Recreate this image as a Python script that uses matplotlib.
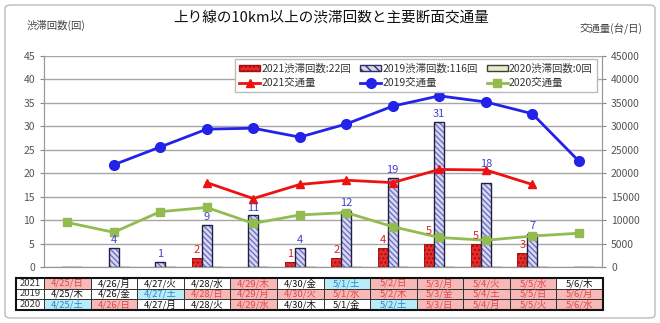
import matplotlib
matplotlib.use("Agg")
import matplotlib.pyplot as plt
from matplotlib.patches import FancyBboxPatch, Patch
import numpy as np

plt.rcParams['font.family'] = ['Noto Sans CJK JP', 'DejaVu Sans']

# data
days = ["4/25", "4/26", "4/27", "4/28", "4/29", "4/30",
        "5/1", "5/2", "5/3", "5/4", "5/5", "5/6"]
jam_2021 = [0, 0, 0, 2, 0, 1, 2, 4, 5, 5, 3, 0]
jam_2019 = [0, 4, 1, 9, 11, 4, 12, 19, 31, 18, 7, 0]
jam_2020 = [0, 0, 0, 0, 0, 0, 0, 0, 0, 0, 0, 0]
traffic_2021 = [None, None, None, 18000, 14600, 17600, 18500, 18000, 20800, 20700, 17600, None]
traffic_2019 = [None, 21800, 25600, 29400, 29600, 27700, 30500, 34300, 36500, 35200, 32700, 22600]
traffic_2020 = [9500, 7400, 11800, 12700, 9300, 11100, 11600, 8600, 6300, 5700, 6600, 7200]

row_years = ["2021", "2019", "2020"]
weekdays_2021 = ["日", "月", "火", "水", "木", "金", "土", "日", "月", "火", "水", "木"]
weekdays_2019 = ["木", "金", "土", "日", "月", "火", "水", "木", "金", "土", "日", "月"]
weekdays_2020 = ["土", "日", "月", "火", "水", "木", "金", "土", "日", "月", "火", "水"]
# h = holiday/sunday, s = saturday, w = weekday
daytype_2021 = ["h", "w", "w", "w", "h", "w", "s", "h", "h", "h", "h", "w"]
daytype_2019 = ["w", "w", "s", "h", "h", "h", "h", "h", "h", "h", "h", "h"]
daytype_2020 = ["s", "h", "w", "w", "h", "w", "w", "s", "h", "h", "h", "h"]

fig = plt.figure(figsize=(6.6, 3.23), dpi=100)
ax = fig.add_axes([44/660, 1-267/323, 558/660, 211/323])
ax2 = ax.twinx()

x = np.arange(len(days))
w = 0.215

# bars
ax.bar(x - w, jam_2021, w, color="#e52b2b", hatch="....", edgecolor="#a01010", lw=0, zorder=3)
ax.bar(x - w, jam_2021, w, fill=False, edgecolor="#a01010", lw=0.6, zorder=3)
ax.bar(x, jam_2019, w, color="#d8d8f6", hatch="\\\\\\\\\\\\", edgecolor="#7070c0", lw=0, zorder=3)
ax.bar(x, jam_2019, w, fill=False, edgecolor="#202040", lw=1.0, zorder=3)
ax.bar(x + w, jam_2020, w, color="#e8ead0", edgecolor="#404030", lw=1.0, zorder=3)

ax.set_xlim(-0.5, len(days) - 0.5)
ax.set_ylim(0, 45)
ax.set_yticks(range(0, 46, 5))
ax.grid(axis="y", color="#a6a6a6", lw=1)
ax.set_axisbelow(True)
ax.set_xticks([])
ax.tick_params(axis="y", labelsize=7.5, labelcolor="#555555", color="#888888", length=3)
ax.spines["top"].set_visible(False)
for s in ["left", "right", "bottom"]:
    ax.spines[s].set_color("#999999")

# traffic lines
def to_arr(v):
    return np.array([np.nan if a is None else a for a in v], dtype=float)

l1, = ax2.plot(x, to_arr(traffic_2021), color="#ee1111", lw=2, marker="^", ms=6, zorder=5)
l2, = ax2.plot(x, to_arr(traffic_2019), color="#2222e8", lw=2, marker="o", ms=7, zorder=5)
l3, = ax2.plot(x, to_arr(traffic_2020), color="#92bb50", lw=2, marker="s", ms=6, zorder=5)
ax2.set_ylim(0, 45000)
ax2.set_yticks(range(0, 45001, 5000))
ax2.tick_params(axis="y", labelsize=7.5, labelcolor="#555555", color="#888888", length=3)
ax2.spines["top"].set_visible(False)
for s in ["left", "right", "bottom"]:
    ax2.spines[s].set_color("#999999")

# data labels (drawn on the top axes so they sit over the lines)
for i in range(len(days)):
    if jam_2021[i] > 0:
        lift = 1.6 if i == 8 else 0.6
        ax2.text(x[i] - w, jam_2021[i] + lift, str(jam_2021[i]), color="#e02020",
                 ha="center", va="bottom", fontsize=8, zorder=6, transform=ax.transData)
    if jam_2019[i] > 0:
        lift = 2.8 if i == 9 else 0.6
        ax2.text(x[i], jam_2019[i] + lift, str(jam_2019[i]), color="#4040d8",
                 ha="center", va="bottom", fontsize=8, zorder=6, transform=ax.transData)

# legend
h1 = Patch(facecolor="#e52b2b", edgecolor="#a01010", hatch="....")
h2 = Patch(facecolor="#d8d8f6", edgecolor="#303060", hatch="\\\\\\\\")
h3 = Patch(facecolor="#e8ead0", edgecolor="#404030")
handles = [h1, l1, h2, l2, h3, l3]
labels = ["2021渋滞回数:22回", "2021交通量", "2019渋滞回数:116回", "2019交通量",
          "2020渋滞回数:0回", "2020交通量"]
leg = ax2.legend(handles, labels, ncol=3, loc="upper right", bbox_to_anchor=(1.0, 1.01),
                 fontsize=7.5, frameon=True, fancybox=False, edgecolor="#bbbbbb",
                 handlelength=2.0, handleheight=0.6, handletextpad=0.1, columnspacing=0.9,
                 borderpad=0.4, labelspacing=0.45, framealpha=1)
leg.set_zorder(10)
for t in leg.get_texts():
    t.set_color("#333333")

# date table under the chart
fills = {"h": "#f7b8b8", "s": "#b8ecf8", "w": "#ffffff"}
tcol = {"h": "#e04848", "s": "#2c84d0", "w": "#111111"}
weekdays = [weekdays_2021, weekdays_2019, weekdays_2020]
types = [daytype_2021, daytype_2019, daytype_2020]
cells = []
for r in range(3):
    cells.append([row_years[r]] + [f"{days[c]}/{weekdays[r][c]}" for c in range(len(days))])
tb = ax.table(cellText=cells, bbox=[-28/558, -43/211, 587/558, 32/211],
              colWidths=[28] + [46.5] * len(days), cellLoc="center")
tb.auto_set_font_size(False)
tb.set_fontsize(6.8)
for (r, c), cell in tb.get_celld().items():
    cell.set_linewidth(0.6)
    cell.set_edgecolor("#222222")
    if c == 0:
        cell.get_text().set_color("#333333")
        continue
    t = types[r][c - 1]
    cell.set_facecolor(fills[t])
    cell.get_text().set_color(tcol[t])
# thick outer border of the table
fig.patches.append(plt.Rectangle((16/660, 1-310/323), 587/660, 32/323, transform=fig.transFigure,
                                 fill=False, edgecolor="#111111", lw=1.5, zorder=20))

# titles
fig.text(331/660, 1-18/323, "上り線の10km以上の渋滞回数と主要断面交通量", ha="center", va="center",
         fontsize=10.5, color="#111111")
fig.text(56/660, 1-25/323, "渋滞回数(回)", ha="center", va="center", fontsize=7.5, color="#444444")
fig.text(611/660, 1-28/323, "交通量(台/日)", ha="center", va="center", fontsize=7.5, color="#444444")

# outer frame
fig.patches.append(FancyBboxPatch((5/660, 5/323), 650/660, 313/323, boxstyle="round,pad=0,rounding_size=0.01",
                                  transform=fig.transFigure, fill=False, edgecolor="#bbbbbb", lw=1))

fig.savefig("out.png", dpi=100)
